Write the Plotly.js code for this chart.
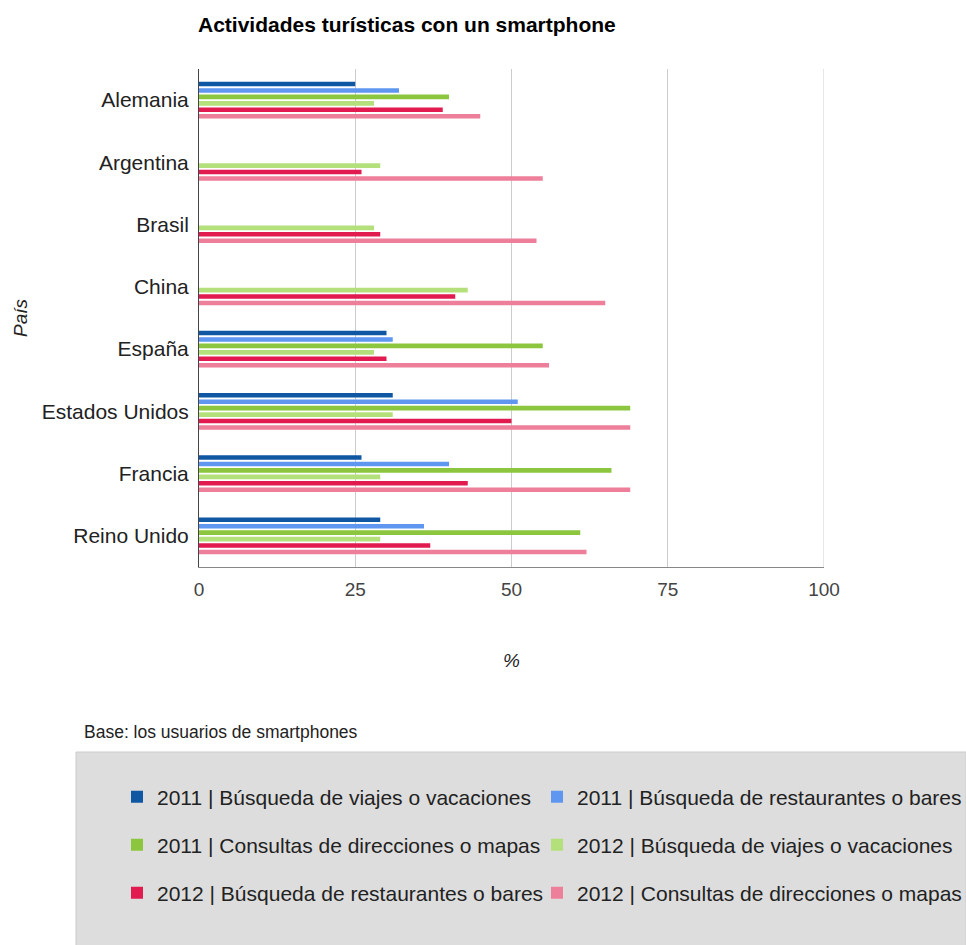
<!DOCTYPE html>
<html>
<head>
<meta charset="utf-8">
<script src="https://cdn.plot.ly/plotly-3.0.1.min.js"></script>
<style>html,body{margin:0;padding:0;background:#fff;}#chart{width:966px;height:945px;}</style>
</head>
<body>
<div id="chart"></div>
<script>
var countries = ['Alemania','Argentina','Brasil','China','España','Estados Unidos','Francia','Reino Unido'];
var seriesNames = [
  '2011 | Búsqueda de viajes o vacaciones',
  '2011 | Búsqueda de restaurantes o bares',
  '2011 | Consultas de direcciones o mapas',
  '2012 | Búsqueda de viajes o vacaciones',
  '2012 | Búsqueda de restaurantes o bares',
  '2012 | Consultas de direcciones o mapas'
];
var v2011Viajes = [25, null, null, null, 30, 31, 26, 29];
var v2011Restaurantes = [32, null, null, null, 31, 51, 40, 36];
var v2011Mapas = [40, null, null, null, 55, 69, 66, 61];
var v2012Viajes = [28, 29, 28, 43, 28, 31, 29, 29];
var v2012Restaurantes = [39, 26, 29, 41, 30, 50, 43, 37];
var v2012Mapas = [45, 55, 54, 65, 56, 69, 69, 62];
var xTicks = [0, 25, 50, 75, 100];

var seriesValues = [v2011Viajes, v2011Restaurantes, v2011Mapas, v2012Viajes, v2012Restaurantes, v2012Mapas];
var colors = ['#0f56a3', '#5f97f0', '#8cc63e', '#b4e07c', '#e11a4f', '#ee7f9b'];
var legendIds = ['legend', 'legend2', 'legend3', 'legend4', 'legend5', 'legend6'];

var FONT = 'Liberation Sans, Arial, sans-serif';

var traces = seriesValues.map(function (vals, i) {
  return {
    type: 'bar',
    orientation: 'h',
    name: seriesNames[i],
    y: countries,
    x: vals,
    marker: {color: colors[i], line: {width: 0}},
    legend: legendIds[i],
    hoverinfo: 'x+y+name'
  };
});

var W = 966, H = 945;
var colX = [117 / W, 537 / W];
var rowY = [1 - 797 / H, 1 - 845 / H, 1 - 893 / H];

function mkLegend(i) {
  return {
    xref: 'container', yref: 'container',
    x: colX[i % 2], y: rowY[Math.floor(i / 2)],
    xanchor: 'left', yanchor: 'middle',
    orientation: 'h',
    bgcolor: 'rgba(0,0,0,0)',
    borderwidth: 0,
    font: {family: FONT, size: 21, color: '#222'}
  };
}

var xMax = xTicks[xTicks.length - 1];

var layout = {
  width: W, height: H,
  margin: {l: 199, r: 142, t: 69, b: 378},
  paper_bgcolor: '#ffffff',
  plot_bgcolor: '#ffffff',
  barmode: 'group',
  bargap: 0.375,
  bargroupgap: 0.3,
  showlegend: true,
  title: {
    text: '<b>Actividades turísticas con un smartphone</b>',
    font: {family: FONT, size: 21, color: '#000'},
    xref: 'container', yref: 'container',
    x: 198 / W, xanchor: 'left',
    y: 1 - 25 / H, yanchor: 'middle'
  },
  xaxis: {
    range: [0, xMax],
    tickvals: xTicks,
    ticktext: xTicks.map(String),
    showgrid: true, gridcolor: '#cccccc', gridwidth: 1,
    zeroline: false,
    showline: true, linecolor: '#888888', linewidth: 1,
    ticks: '',
    ticklabelstandoff: 5,
    tickfont: {family: FONT, size: 19, color: '#444'},
    automargin: false,
    title: {text: '%', font: {family: FONT, size: 19, color: '#222', style: 'italic'}, standoff: 54}
  },
  yaxis: {
    type: 'category',
    autorange: 'reversed',
    showgrid: false,
    zeroline: false,
    showline: true, linecolor: '#444444', linewidth: 1,
    ticks: '',
    ticklabelstandoff: 5,
    tickfont: {family: FONT, size: 21, color: '#222'},
    automargin: false,
    title: {text: 'País', font: {family: FONT, size: 19, color: '#222', style: 'italic'}, standoff: 9}
  },
  shapes: [{
    type: 'rect', xref: 'paper', yref: 'paper', layer: 'below',
    x0: (76 - 199) / 625, x1: (966 - 199) / 625,
    y0: (567 - 950) / 498, y1: (567 - 752) / 498,
    fillcolor: '#dddddd', line: {color: '#cccccc', width: 1}
  }, {
    type: 'line', xref: 'x', yref: 'paper', layer: 'below',
    x0: xMax, x1: xMax, y0: 0, y1: 1,
    line: {color: '#cccccc', width: 1}
  }],
  annotations: [{
    text: 'Base: los usuarios de smartphones',
    xref: 'paper', yref: 'paper',
    x: (82 - 199) / 625, xanchor: 'left',
    y: (567 - 732) / 498, yanchor: 'middle',
    showarrow: false,
    font: {family: FONT, size: 17.5, color: '#222'}
  }]
};
legendIds.forEach(function (id, i) { layout[id] = mkLegend(i); });

Plotly.newPlot('chart', traces, layout, {displayModeBar: false, staticPlot: false});
</script>
</body>
</html>
